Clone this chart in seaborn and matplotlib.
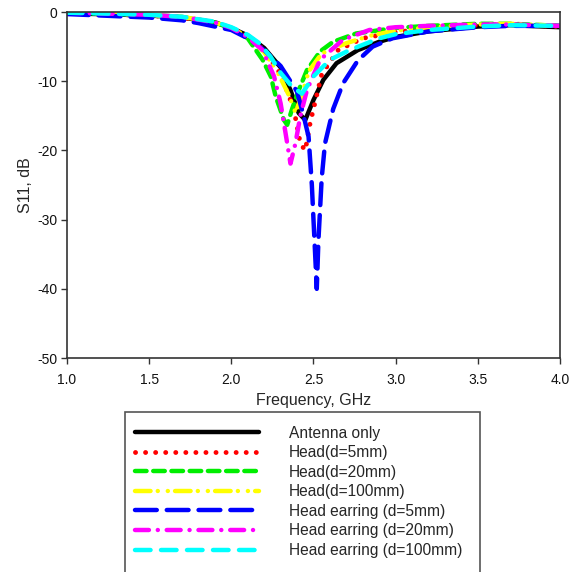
import numpy as np
import pandas as pd
import matplotlib
matplotlib.use("Agg")
import matplotlib.pyplot as plt
import seaborn as sns
from matplotlib.patches import Rectangle

# S11 readings (GHz, dB)
f_ant = [1.0, 1.2, 1.5, 1.7, 1.9, 2.0, 2.1, 2.2, 2.3, 2.36, 2.41, 2.45, 2.50, 2.56, 2.64, 2.77, 2.9, 3.0, 3.2, 3.5, 3.7, 4.0]
s_ant = [-0.2, -0.3, -0.5, -0.8, -1.5, -2.3, -3.4, -5.2, -8.0, -11.3, -14.6, -15.6, -12.7, -9.8, -7.4, -5.5, -4.3, -3.6, -2.8, -2.1, -1.9, -2.2]

f_h5 = [1.0, 1.2, 1.5, 1.7, 1.9, 2.0, 2.1, 2.2, 2.3, 2.38, 2.42, 2.45, 2.48, 2.55, 2.65, 2.8, 3.0, 3.2, 3.5, 3.7, 4.0]
s_h5 = [-0.2, -0.3, -0.5, -0.8, -1.5, -2.3, -3.5, -5.5, -9.0, -14.0, -19.0, -20.0, -16.0, -9.0, -5.5, -3.8, -2.9, -2.4, -1.9, -1.8, -2.1]

f_h20 = [1.0, 1.2, 1.5, 1.7, 1.9, 2.0, 2.1, 2.19, 2.24, 2.27, 2.32, 2.34, 2.37, 2.41, 2.46, 2.54, 2.62, 2.76, 3.0, 3.2, 3.5, 3.7, 4.0]
s_h20 = [-0.1, -0.2, -0.4, -0.7, -1.5, -2.4, -3.8, -6.9, -9.3, -12.2, -15.6, -16.3, -14.0, -11.3, -8.4, -5.7, -4.3, -3.1, -2.3, -2.0, -1.7, -1.7, -2.0]

f_h100 = [1.0, 1.2, 1.5, 1.7, 1.9, 2.0, 2.1, 2.2, 2.28, 2.35, 2.39, 2.43, 2.47, 2.55, 2.7, 2.85, 3.0, 3.2, 3.5, 3.7, 4.0]
s_h100 = [-0.1, -0.2, -0.4, -0.7, -1.5, -2.3, -3.6, -5.8, -8.6, -12.0, -14.5, -12.0, -8.6, -6.0, -4.5, -3.4, -2.7, -2.2, -1.8, -1.7, -2.0]

f_e5 = [1.0, 1.1, 1.3, 1.5, 1.7, 1.8, 2.0, 2.1, 2.2, 2.3, 2.4, 2.44, 2.47, 2.49, 2.51, 2.52, 2.53, 2.55, 2.57, 2.62, 2.68, 2.77, 2.86, 2.98, 3.2, 3.5, 3.7, 4.0]
s_e5 = [-0.3, -0.4, -0.6, -0.8, -1.2, -1.6, -2.6, -3.8, -5.5, -7.8, -11.5, -15.0, -18.0, -25.0, -35.0, -40.0, -33.0, -24.0, -19.0, -14.0, -10.3, -7.0, -5.0, -3.8, -2.8, -2.2, -2.0, -2.0]

f_e20 = [1.0, 1.2, 1.5, 1.7, 1.9, 2.0, 2.1, 2.19, 2.26, 2.30, 2.33, 2.36, 2.39, 2.42, 2.46, 2.54, 2.68, 2.84, 3.0, 3.2, 3.5, 3.7, 4.0]
s_e20 = [-0.1, -0.2, -0.4, -0.7, -1.5, -2.3, -3.6, -5.5, -9.3, -13.2, -17.5, -21.9, -19.0, -15.0, -11.3, -6.9, -4.0, -2.6, -2.2, -2.0, -1.8, -1.8, -2.0]

f_e100 = [1.0, 1.2, 1.5, 1.7, 1.9, 2.0, 2.1, 2.17, 2.24, 2.30, 2.37, 2.43, 2.50, 2.60, 2.72, 2.9, 3.0, 3.2, 3.5, 3.7, 4.0]
s_e100 = [-0.1, -0.2, -0.4, -0.7, -1.4, -2.2, -3.3, -4.5, -6.5, -8.8, -10.8, -11.8, -9.3, -6.9, -5.5, -3.8, -3.2, -2.6, -2.1, -1.9, -2.0]

labels = ["Antenna only", "Head(d=5mm)", "Head(d=20mm)", "Head(d=100mm)",
          "Head earring (d=5mm)", "Head earring (d=20mm)", "Head earring (d=100mm)"]
freqs = [f_ant, f_h5, f_h20, f_h100, f_e5, f_e20, f_e100]
s11 = [s_ant, s_h5, s_h20, s_h100, s_e5, s_e20, s_e100]

colors = ["#000000", "#ff0000", "#00ee00", "#ffff00", "#0000ff", "#ff00ff", "#00ffff"]
# dash patterns in linewidth units (round caps add to the visible dash)
dashes = ["", (0.01, 2.06), (2.6, 1.5), (3.5, 1.62, 0.01, 2.25, 0.01, 1.62),
          (4.9, 2.25), (3.13, 2.0, 0.01, 2.0), (3.5, 2.35)]
widths = [3.2, 3.5, 3.2, 3.2, 3.2, 3.2, 3.2]

rows = []
for lab, f, s in zip(labels, freqs, s11):
    for x, y in zip(f, s):
        rows.append((lab, x, y))
df = pd.DataFrame(rows, columns=["series", "freq", "s11"])

sns.set_style("white")
plt.rcParams["font.family"] = ["Liberation Sans", "DejaVu Sans"]
plt.rcParams["axes.unicode_minus"] = False

fig = plt.figure(figsize=(5.74, 5.72), dpi=100)
ax = fig.add_axes([0.1167, 0.374, 0.8589, 0.605])

handles = []
for lab, col, ds, lw in zip(labels, colors, dashes, widths):
    sub = df[df["series"] == lab]
    sns.lineplot(data=sub, x="freq", y="s11", ax=ax, color=col, linewidth=lw,
                 sort=False, estimator=None, legend=False)
    ln = ax.lines[-1]
    if ds:
        ln.set_dashes(ds)
    ln.set_dash_capstyle("round")
    ln.set_solid_capstyle("round")
    handles.append(ln)

ax.set_xlim(1.0, 4.0)
ax.set_ylim(-50, 0)
ax.set_xticks([1.0, 1.5, 2.0, 2.5, 3.0, 3.5, 4.0])
ax.set_xticklabels(["1.0", "1.5", "2.0", "2.5", "3.0", "3.5", "4.0"])
ax.set_yticks([0, -10, -20, -30, -40, -50])
ax.set_xlabel("Frequency, GHz", fontsize=11.5, labelpad=4.5)
ax.set_ylabel("S11, dB", fontsize=11.5, labelpad=3)
ax.tick_params(axis="both", direction="out", length=4, width=1, colors="#333333",
               labelsize=10, labelcolor="#111111", bottom=True, left=True, pad=3)
ax.tick_params(axis="x", pad=6.5)
for sp in ax.spines.values():
    sp.set_visible(True)
    sp.set_color("#333333")
    sp.set_linewidth(1.2)

# legend frame, bottom runs off the figure
fig.patches.append(Rectangle((125 / 574, -0.02), 355 / 574, 1 - 412 / 572 + 0.02,
                             transform=fig.transFigure, fill=False,
                             edgecolor="#555555", linewidth=1.2))
fig.legend(handles, labels, loc="upper left", bbox_to_anchor=(124 / 574, 1 - 415 / 572),
           frameon=False, fontsize=11.2, handlelength=8.0, handletextpad=1.9,
           labelspacing=0.29, borderpad=0.2)

fig.savefig("out.png", dpi=100)
